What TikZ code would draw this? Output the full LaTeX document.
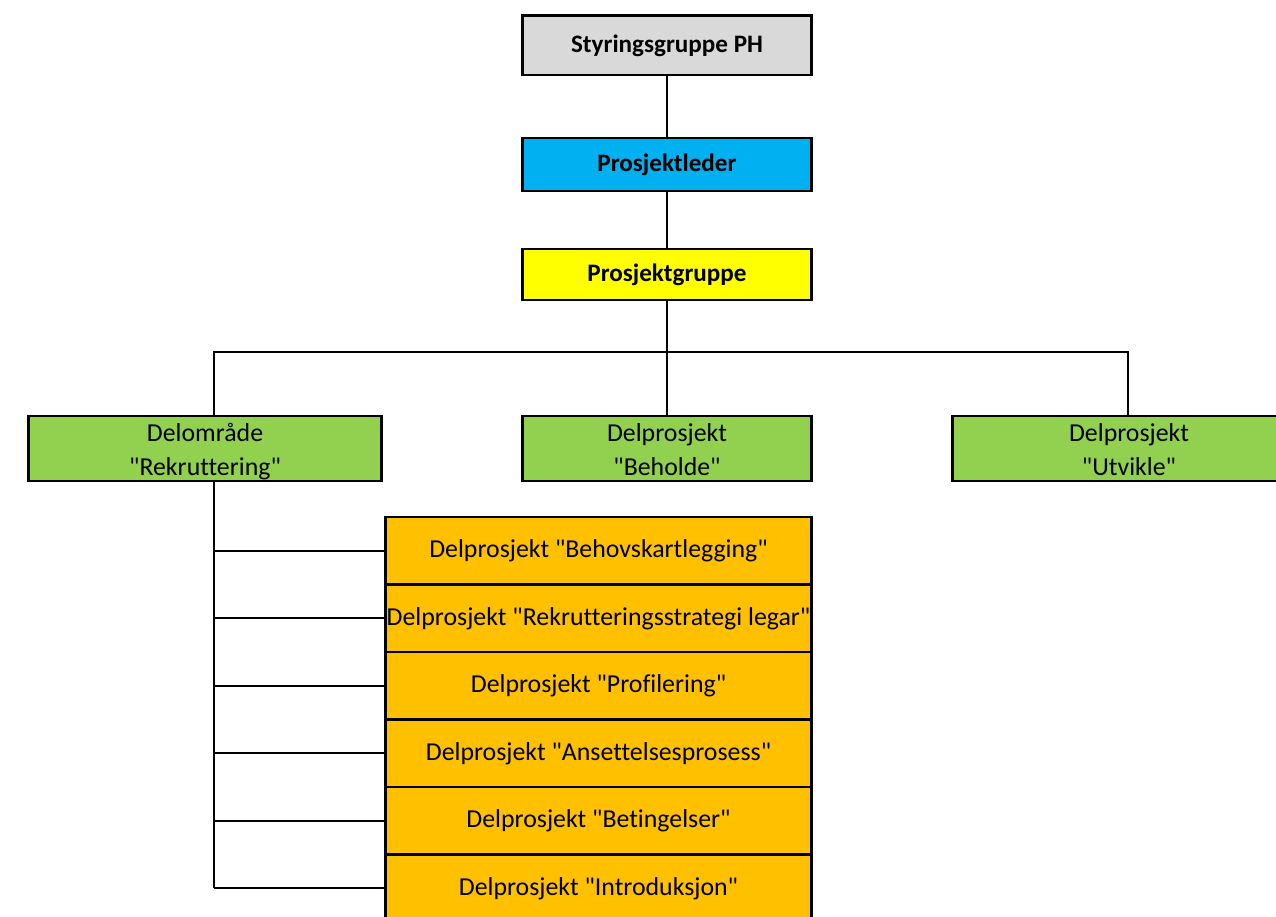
\documentclass[tikz,border=0pt]{standalone}
\usepackage{fontspec}
\setmainfont{Carlito}[Ligatures={TeXOff,CommonOff}]
\usetikzlibrary{positioning}

\definecolor{styrgray}{HTML}{D9D9D9}
\definecolor{lederblue}{HTML}{00B0F0}
\definecolor{gruppeyellow}{HTML}{FFFF00}
\definecolor{delgreen}{HTML}{92D050}
\definecolor{delorange}{HTML}{FFC000}

\tikzset{
  orgbox/.style={draw, line width=1.7pt, inner sep=0pt, align=center,
    font=\fontsize{14.7}{18.8}\selectfont},
  topbox/.style={orgbox, minimum width=5.78cm, font=\fontsize{14.3}{18.8}\selectfont\bfseries},
  greenbox/.style={orgbox, fill=delgreen, minimum width=7.06cm, minimum height=1.30cm,
    text height=1.18cm, text depth=0.12cm},
  subbox/.style={orgbox, fill=delorange, minimum width=8.52cm, minimum height=1.35cm},
  link/.style={line width=1.1pt}
}

\begin{document}
\begin{tikzpicture}

    \useasboundingbox (0,0) rectangle (25.52,-18.34);

    % top of the tree
    \node [topbox, fill=styrgray, minimum height=1.18cm] (styr) at (13.34,-0.91) {Styringsgruppe PH};
    \node [topbox, fill=lederblue, minimum height=1.06cm] (leder) at (13.34,-3.29) {Prosjektleder};
    \node [topbox, fill=gruppeyellow, minimum height=1.02cm] (gruppe) at (13.34,-5.49) {Prosjektgruppe};

    % delomraade / delprosjekt
    \node [greenbox] (rekr) at (4.10,-8.97) {Delområde\\"Rekruttering"};
    \node [greenbox, minimum width=5.78cm] (beh) at (13.34,-8.97) {Delprosjekt\\"Beholde"};
    \node [greenbox] (utv) at (22.58,-8.97) {Delprosjekt\\"Utvikle"};

    % delprosjekt under Rekruttering
    \node [subbox] (del1) at (11.97,-11.015) {Delprosjekt "Behovskartlegging"};
    \node [subbox] (del2) at (11.97,-12.365) {Delprosjekt "Rekrutteringsstrategi legar"};
    \node [subbox] (del3) at (11.97,-13.715) {Delprosjekt "Profilering"};
    \node [subbox] (del4) at (11.97,-15.065) {Delprosjekt "Ansettelsesprosess"};
    \node [subbox] (del5) at (11.97,-16.415) {Delprosjekt "Betingelser"};
    \node [subbox] (del6) at (11.97,-17.765) {Delprosjekt "Introduksjon"};

    % connectors
    \draw [link] (styr) -- (leder);
    \draw [link] (leder) -- (gruppe);
    \draw [link] (gruppe) -- (beh);

    \coordinate (busL) at (4.28,-7.04);
    \coordinate (busR) at (22.56,-7.04);
    \draw [link] (busL |- rekr.north) -- (busL) -- (busR) -- (busR |- utv.north);

    %% spine
    \draw [link] (busL |- rekr.south) -- (busL |- del6.west);
    \draw [link] (busL |- del1.west) -- (del1.west);
    \draw [link] (busL |- del2.west) -- (del2.west);
    \draw [link] (busL |- del3.west) -- (del3.west);
    \draw [link] (busL |- del4.west) -- (del4.west);
    \draw [link] (busL |- del5.west) -- (del5.west);
    \draw [link] (busL |- del6.west) -- (del6.west);

\end{tikzpicture}
\end{document}
